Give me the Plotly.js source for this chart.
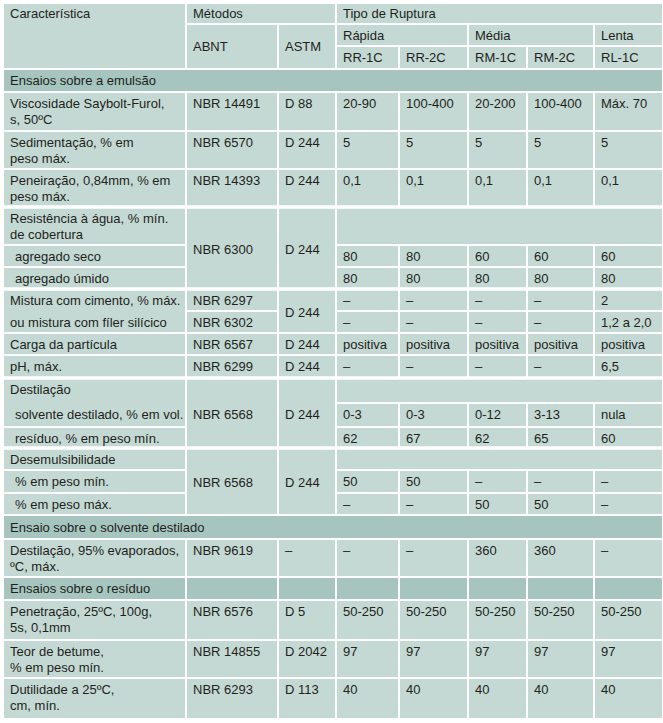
<!DOCTYPE html>
<html><head><meta charset="utf-8">
<script src="https://cdn.plot.ly/plotly-3.0.1.min.js"></script>
<style>html,body{margin:0;padding:0;background:#fff;overflow:hidden}</style>
</head><body><div id="chart" style="width:663px;height:723px"></div>
<script>
// ---------------- DATA ----------------
const headerCharacteristic = "Característica";
const methodsHeader = "Métodos";
const methodColumns = ["ABNT", "ASTM"];
const ruptureHeader = "Tipo de Ruptura";
const ruptureGroups = ["Rápida", "Média", "Lenta"];
const emulsionTypes = ["RR-1C", "RR-2C", "RM-1C", "RM-2C", "RL-1C"];
const sections = ["Ensaios sobre a emulsão", "Ensaio sobre o solvente destilado", "Ensaios sobre o resíduo"];

const characteristics = [
  "Viscosidade Saybolt-Furol,\ns, 50ºC",
  "Sedimentação, % em\npeso máx.",
  "Peneiração, 0,84mm, % em\npeso máx.",
  "Resistência à água, % mín.\nde cobertura",
  "agregado seco",
  "agregado úmido",
  "Mistura com cimento, % máx.",
  "ou mistura com fíler silícico",
  "Carga da partícula",
  "pH, máx.",
  "Destilação",
  "solvente destilado, % em vol.",
  "resíduo, % em peso mín.",
  "Desemulsibilidade",
  "% em peso mín.",
  "% em peso máx.",
  "Destilação, 95% evaporados,\nºC, máx.",
  "Penetração, 25ºC, 100g,\n5s, 0,1mm",
  "Teor de betume,\n% em peso mín.",
  "Dutilidade a 25ºC,\ncm, mín."
];
// null = continuation of the cell above
const abnt = ["NBR 14491","NBR 6570","NBR 14393","NBR 6300",null,null,"NBR 6297","NBR 6302","NBR 6567","NBR 6299","NBR 6568",null,null,"NBR 6568",null,null,"NBR 9619","NBR 6576","NBR 14855","NBR 6293"];
const astm = ["D 88","D 244","D 244","D 244",null,null,"D 244",null,"D 244","D 244","D 244",null,null,"D 244",null,null,"–","D 5","D 2042","D 113"];
const rr1c = ["20-90","5","0,1","","80","80","–","–","positiva","–","","0-3","62","","50","–","–","50-250","97","40"];
const rr2c = ["100-400","5","0,1","","80","80","–","–","positiva","–","","0-3","67","","50","–","–","50-250","97","40"];
const rm1c = ["20-200","5","0,1","","60","80","–","–","positiva","–","","0-12","62","","–","50","360","50-250","97","40"];
const rm2c = ["100-400","5","0,1","","60","80","–","–","positiva","–","","3-13","65","","–","50","360","50-250","97","40"];
const rl1c = ["Máx. 70","5","0,1","","60","80","2","1,2 a 2,0","positiva","6,5","","nula","60","","–","–","–","50-250","97","40"];

// ---------------- LAYOUT (geometry & style) ----------------
const W = 663, H = 723;
const colEdges = [3,186,278,336,399,468,527,594,663];
const headerEdges = [3,24,46,69];
const groupSpans = [2,2,1];
const sectionBefore = {0:0, 16:1, 17:2};   // data index -> section index
const splitSections = [2];                 // sections drawn with column cells
const bodyHeights = {                       // by row key
  s0:23, d0:39, d1:38, d2:38, d3:38, d4:22, d5:22, d6:22, d7:22, d8:22, d9:23,
  d10:25, d11:24, d12:21, d13:22, d14:23, d15:22, s1:24, d16:38, s2:23, d17:40, d18:38, d19:41
};
const labelJoin = [6, 10];                 // label cell spans this row and next
const indented = [4,5,11,12,14,15];
const thickBefore = [3,6,10,13];
const LIGHT = "#c4d9d3", DARK = "#a6c5be", INK = "#231f20";
const FONT = "Liberation Sans, Arial, sans-serif", FS = 13;
const PADX = 6, LINE1 = 11.5, LSTEP = 15.5;

const valueCols = [rr1c, rr2c, rm1c, rm2c, rl1c];

// build row list
const rows = [];
for (let d = 0; d < characteristics.length; d++) {
  if (sectionBefore[d] !== undefined) rows.push({kind:"s", idx:sectionBefore[d]});
  rows.push({kind:"d", idx:d});
}
let y = headerEdges[3];
rows.forEach(r => { r.top = y; y += bodyHeights[r.kind + r.idx]; r.bot = y; });
const dataRow = {};
rows.forEach(r => { if (r.kind === "d") dataRow[r.idx] = r; });

const shapes = [], annotations = [];
function cell(c0, c1, y0, y1, fill) {
  shapes.push({type:"rect", xref:"x", yref:"y", x0:colEdges[c0], x1:colEdges[c1], y0:y0, y1:y1,
    fillcolor:fill, line:{color:"#ffffff", width:2}, layer:"below"});
}
function text(str, xpos, ypos, multiline) {
  const lines = String(str).split("\n");
  lines.forEach((t, i) => {
    annotations.push({xref:"x", yref:"y", x:xpos, y:ypos + i*LSTEP, text:t, showarrow:false,
      xanchor:"left", yanchor:"middle", font:{family:FONT, size:FS, color:INK}, borderpad:0});
  });
}

// header
const h = headerEdges;
cell(0,1,h[0],h[3],LIGHT); text(headerCharacteristic, colEdges[0]+PADX, h[0]+LINE1-1);
cell(1,3,h[0],h[1],LIGHT); text(methodsHeader, colEdges[1]+PADX, h[0]+LINE1-1);
methodColumns.forEach((m,i) => { cell(1+i,2+i,h[1],h[3],LIGHT); text(m, colEdges[1+i]+PADX, (h[1]+h[3])/2); });
cell(3,8,h[0],h[1],LIGHT); text(ruptureHeader, colEdges[3]+PADX, h[0]+LINE1-1);
let gc = 3;
ruptureGroups.forEach((g,i) => { cell(gc, gc+groupSpans[i], h[1], h[2], LIGHT); text(g, colEdges[gc]+PADX, (h[1]+h[2])/2); gc += groupSpans[i]; });
emulsionTypes.forEach((t,i) => { cell(3+i,4+i,h[2],h[3],LIGHT); text(t, colEdges[3+i]+PADX, (h[2]+h[3])/2); });

// body
function spanEnd(arr, d) { let e = d; while (e+1 < arr.length && arr[e+1] === null) e++; return e; }
rows.forEach(r => {
  if (r.kind === "s") {
    if (splitSections.includes(r.idx)) { for (let c = 0; c < 8; c++) cell(c, c+1, r.top, r.bot, DARK); }
    else cell(0, 8, r.top, r.bot, DARK);
    text(sections[r.idx], colEdges[0]+PADX, (r.top+r.bot)/2);
    return;
  }
  const d = r.idx;
  // label
  if (labelJoin.includes(d)) cell(0,1,r.top,dataRow[d+1].bot,LIGHT);
  else if (!labelJoin.includes(d-1)) cell(0,1,r.top,r.bot,LIGHT);
  text(characteristics[d], colEdges[0]+PADX+(indented.includes(d)?5:0), r.top+LINE1);
  // methods
  [abnt, astm].forEach((arr, k) => {
    if (arr[d] === null) return;
    const e = spanEnd(arr, d);
    const bot = dataRow[e].bot;
    cell(1+k, 2+k, r.top, bot, LIGHT);
    text(arr[d], colEdges[1+k]+PADX, e > d ? (r.top+bot)/2 + 1 : r.top+LINE1);
  });
  // values
  const vals = valueCols.map(a => a[d]);
  if (vals.every(v => v === "")) cell(3, 8, r.top, r.bot, LIGHT);
  else vals.forEach((v,i) => { cell(3+i, 4+i, r.top, r.bot, LIGHT); if (v) text(v, colEdges[3+i]+PADX, r.top+LINE1); });
});
thickBefore.forEach(d => {
  const yy = dataRow[d].top;
  shapes.push({type:"line", xref:"x", yref:"y", x0:colEdges[0], x1:colEdges[8], y0:yy, y1:yy,
    line:{color:"#ffffff", width:3.5}, layer:"below"});
});

Plotly.newPlot("chart", [{type:"scatter", x:[], y:[], mode:"markers", hoverinfo:"skip", showlegend:false}], {
  width:W, height:H, margin:{l:0,r:0,t:0,b:0,pad:0},
  paper_bgcolor:"#ffffff", plot_bgcolor:"#ffffff", showlegend:false,
  xaxis:{range:[0,W], visible:false, fixedrange:true},
  yaxis:{range:[H,0], visible:false, fixedrange:true},
  shapes:shapes, annotations:annotations
}, {staticPlot:true, displayModeBar:false});
</script>
</body></html>
